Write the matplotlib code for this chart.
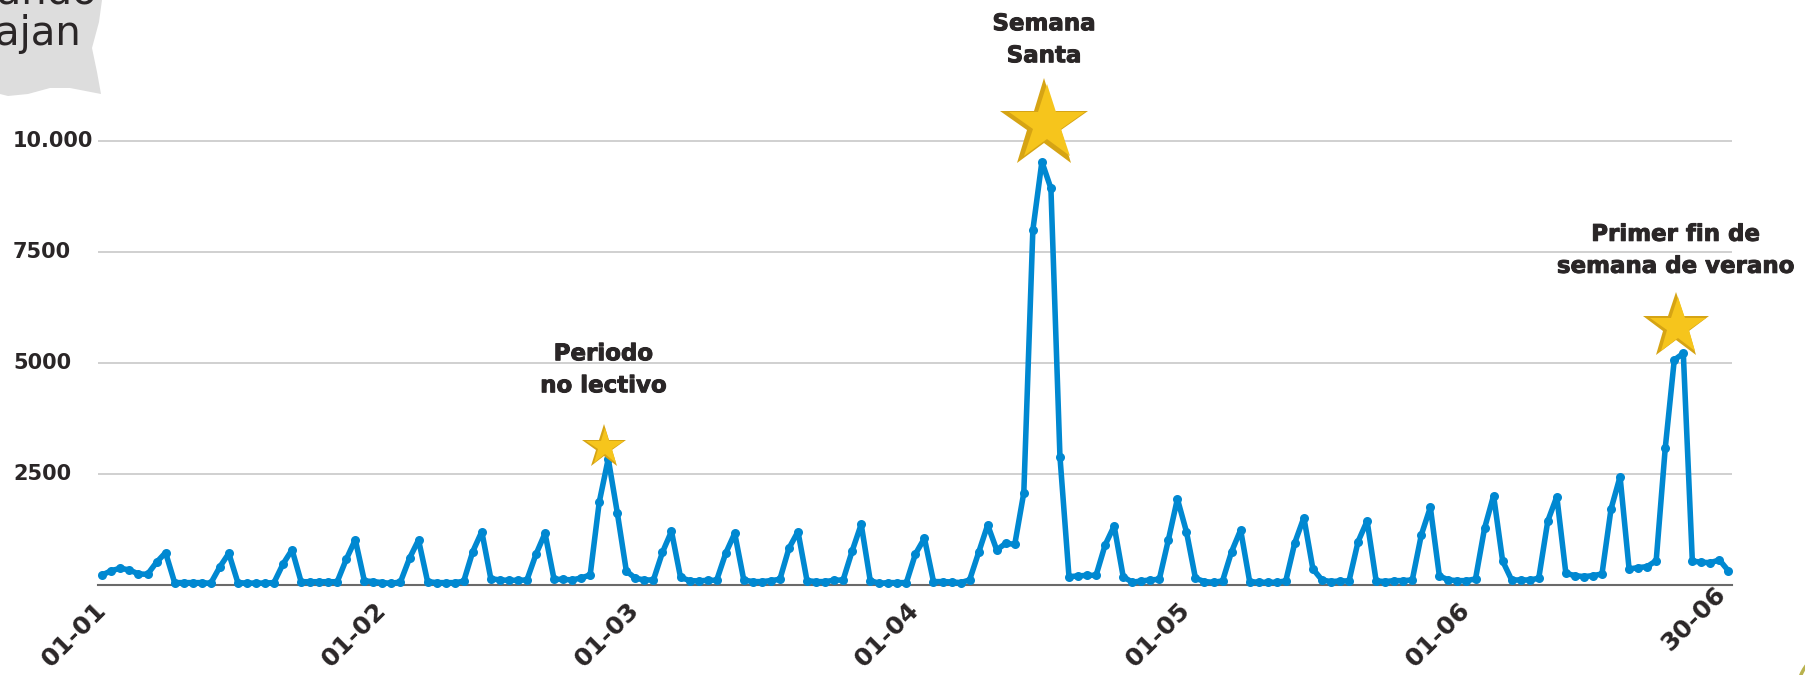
import matplotlib.pyplot as plt
import matplotlib.patheffects as pe
import matplotlib.transforms as mtransforms
import numpy as np
from matplotlib.patches import Arc, Polygon

# ---- data: daily values from 01-01 to 30-06 ----
values = [
    233, 330, 383, 345, 255, 248, 518, 735, 60, 60,
    60, 60, 45, 413, 720, 60, 50, 50, 50, 60,
    480, 800, 80, 80, 80, 80, 80, 585, 1028, 100,
    83, 60, 45, 75, 608, 1021, 83, 60, 60, 60,
    90, 758, 1209, 150, 120, 113, 113, 120, 698, 1171,
    135, 135, 120, 165, 233, 1869, 2850, 1636, 323, 158,
    120, 120, 743, 1216, 180, 105, 98, 113, 113, 720,
    1171, 120, 83, 83, 105, 135, 833, 1209, 105, 83,
    83, 113, 120, 773, 1374, 105, 45, 60, 60, 60,
    705, 1058, 83, 83, 75, 60, 120, 743, 1359, 796,
    946, 923, 2087, 8000, 9540, 8940, 2898, 195, 210, 225,
    225, 908, 1336, 195, 68, 98, 120, 135, 1021, 1944,
    1209, 158, 83, 68, 98, 758, 1246, 83, 68, 68,
    68, 98, 961, 1524, 368, 120, 83, 98, 98, 983,
    1449, 98, 83, 105, 105, 120, 1134, 1757, 210, 120,
    105, 105, 143, 1284, 2019, 548, 120, 120, 120, 158,
    1449, 1997, 270, 218, 195, 218, 255, 1719, 2447, 368,
    398, 420, 556, 3085, 5075, 5225, 548, 518, 510, 571,
    323,
]
tick_days = [0, 31, 59, 90, 120, 151, 180]
tick_labels = ['01-01', '01-02', '01-03', '01-04', '01-05', '01-06', '30-06']
y_ticks = [2500, 5000, 7500, 10000]
y_tick_labels = ['2500', '5000', '7500', '10.000']

# highlighted peaks (day index) and their notes
peak_days = [56, 104, 175]
peak_notes = ['Periodo\nno lectivo', 'Semana\nSanta', 'Primer fin de\nsemana de verano']

blue = '#0088d1'
dark = '#2a2627'
gold = '#f6c51c'
gold_dark = '#d6a414'

plt.rcParams['font.family'] = ['DejaVu Sans']

fig = plt.figure(figsize=(18.05, 6.75), dpi=100)
ax = fig.add_axes([0.0542, 0.1329, 0.9054, 0.7235])

days = np.arange(len(values))
ax.plot(days, values, color=blue, linewidth=4.0, marker='o', markersize=6.5,
        markeredgewidth=0, zorder=3, clip_on=False)

ax.set_xlim(-0.5, 180.4)
ax.set_ylim(0, 11000)

# y labels sit at the left edge of the figure
ax.set_yticks(y_ticks)
ax.set_yticklabels([])
ylab_tr = mtransforms.blended_transform_factory(fig.transFigure, ax.transData)
for yv, lab in zip(y_ticks, y_tick_labels):
    ax.text(13 / 1805, yv, lab, transform=ylab_tr, ha='left', va='center',
            fontsize=15, fontweight='bold', color=dark)
ax.grid(axis='y', color='#c4c4c4', linewidth=1.1)
ax.set_axisbelow(True)

ax.set_xticks(tick_days)
ax.set_xticklabels(tick_labels, rotation=45, ha='right', va='center',
                   rotation_mode='anchor', fontsize=18, fontweight='bold', color=dark)
ax.tick_params(axis='both', length=0)
ax.tick_params(axis='x', pad=15)
# last label sits a little higher in the original
last = ax.get_xticklabels()[-1]
last.set_transform(last.get_transform() + mtransforms.ScaledTranslation(-6 / 100, 16 / 100, fig.dpi_scale_trans))

for s in ['top', 'right', 'left']:
    ax.spines[s].set_visible(False)
ax.spines['bottom'].set_color('#6a6a6a')
ax.spines['bottom'].set_linewidth(1.5)

# stars above the highlighted peaks
star_sizes = [33, 67, 50]
star_offsets = [(-4.5, 12), (2, 37), (-7.5, 26)]
note_offsets = [(-5, 89), (2, 122), (-8, 103)]
heavy = [pe.withStroke(linewidth=0.7, foreground=dark)]
for d, note, ms, (dx, dy), (tx, ty) in zip(peak_days, peak_notes, star_sizes,
                                           star_offsets, note_offsets):
    tr = mtransforms.offset_copy(ax.transData, fig=fig, x=dx, y=dy, units='dots')
    ax.plot(d, values[d], marker='*', markersize=ms, color=gold_dark,
            markeredgewidth=0, transform=tr, zorder=5, clip_on=False)
    tr2 = mtransforms.offset_copy(ax.transData, fig=fig, x=dx + ms * 0.05,
                                  y=dy + ms * 0.005, units='dots')
    ax.plot(d, values[d], marker='*', markersize=ms * 0.85, color=gold,
            markeredgewidth=0, transform=tr2, zorder=6, clip_on=False)
    ax.annotate(note, xy=(d, values[d]), xytext=(tx, ty), textcoords='offset pixels',
                ha='center', va='center', fontsize=16.5, fontweight='bold',
                color=dark, linespacing=1.5, annotation_clip=False,
                path_effects=heavy)

# cut-off speech bubble in the top-left corner
bubble = [(0, 0), (102, 0), (99, 22), (92, 48), (97, 72), (101, 94),
          (70, 88), (50, 88), (28, 94), (8, 96), (0, 94)]
bubble = [(x / 1805, 1 - y / 675) for x, y in bubble]
fig.patches.append(Polygon(bubble, closed=True, transform=fig.transFigure,
                           facecolor='#dddddd', edgecolor='none', zorder=0))
fig.text(98 / 1805, 1 - 4 / 675, 'cuando', ha='right', va='baseline',
         fontsize=29, color=dark)
fig.text(82 / 1805, 1 - 45 / 675, 'viajan', ha='right', va='baseline',
         fontsize=29, color=dark)

# fragment of a decoration peeking in at the bottom-right corner
fig.patches.append(Arc((1838 / 1805, 1 - 690 / 675), 80 / 1805, 80 / 675,
                       transform=fig.transFigure, color='#b9b24e', linewidth=2.5))

fig.savefig('out.png', dpi=100)
